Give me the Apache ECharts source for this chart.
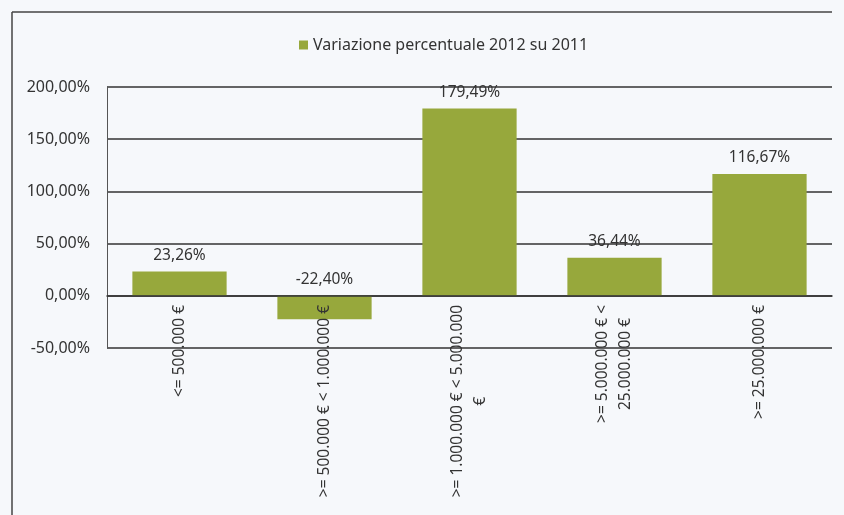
<!DOCTYPE html>
<html>
<head>
<meta charset="utf-8">
<script src="https://cdn.jsdelivr.net/npm/echarts@6/dist/echarts.min.js"></script>
<style>
html,body{margin:0;padding:0;background:#f6f8fb;}
#chart{width:844px;height:515px;}
</style>
</head>
<body>
<div id="chart"></div>
<script>
var categories = ['<= 500.000 €', '>= 500.000 € < 1.000.000 €', '>= 1.000.000 € < 5.000.000\n€', '>= 5.000.000 € <\n25.000.000 €', '>= 25.000.000 €'];
var seriesName = 'Variazione percentuale 2012 su 2011';
var values = [23.26, -22.40, 179.49, 36.44, 116.67];
var yTicks = [-50, 0, 50, 100, 150, 200];

function fmt(v) { return v.toFixed(2).replace('.', ',') + '%'; }

var chart = echarts.init(document.getElementById('chart'));
chart.setOption({
  backgroundColor: '#f6f8fb',
  animation: false,
  textStyle: { fontFamily: 'Noto Sans' },
  legend: {
    data: [seriesName],
    top: 32, left: 294,
    icon: 'rect', itemWidth: 9, itemHeight: 9, itemGap: 4,
    textStyle: { fontSize: 16, color: '#333', fontFamily: 'Noto Sans' }
  },
  grid: { left: 107, right: 12, top: 87, bottom: 167, containLabel: false, outerBoundsMode: 'none' },
  graphic: [
    { type: 'line', shape: { x1: 12, y1: 12, x2: 832, y2: 12 }, style: { stroke: '#444', lineWidth: 1.5 } },
    { type: 'line', shape: { x1: 12, y1: 12, x2: 12, y2: 515 }, style: { stroke: '#444', lineWidth: 1.5 } }
  ],
  xAxis: {
    type: 'category',
    data: categories,
    offset: -52,
    z: 10,
    axisLine: { onZero: false, lineStyle: { color: '#333', width: 1.5 } },
    axisTick: { show: false },
    axisLabel: {
      rotate: 90, fontSize: 15.5, color: '#333', margin: 9, interval: 0, fontFamily: 'Noto Sans', lineHeight: 23,
      formatter: function (v) {
        return v.split('\n').map(function (s) { return '{c|' + s + '}'; }).join('\n');
      },
      rich: { c: { align: 'center', fontSize: 15.5, color: '#333', fontFamily: 'Noto Sans', lineHeight: 23 } }
    }
  },
  yAxis: {
    type: 'value',
    min: yTicks[0], max: yTicks[yTicks.length - 1], interval: 50,
    axisLine: { show: true, lineStyle: { color: '#555', width: 1 } },
    axisTick: { show: false },
    splitLine: { lineStyle: { color: '#333', width: 1.5 } },
    axisLabel: { formatter: fmt, fontSize: 16, color: '#333', margin: 17, fontFamily: 'Noto Sans' }
  },
  series: [{
    name: seriesName,
    type: 'bar',
    data: values,
    barWidth: '65%',
    itemStyle: { color: '#97a83c' },
    label: {
      show: true, position: 'top', distance: 8,
      formatter: function (p) { return fmt(p.value); },
      fontSize: 15.5, color: '#333', fontFamily: 'Noto Sans'
    }
  }]
});
</script>
</body>
</html>
